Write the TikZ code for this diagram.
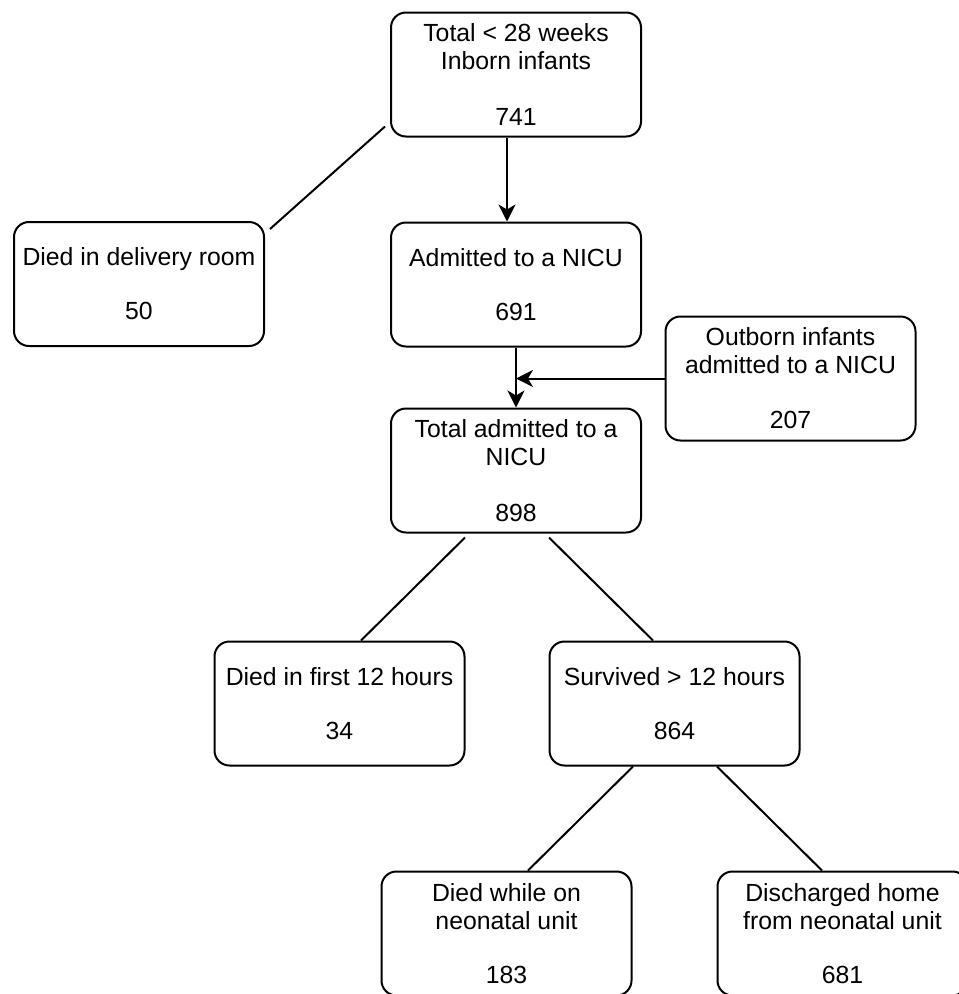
\documentclass[tikz,border=0pt]{standalone}
\usepackage{fontspec}
\setmainfont{Liberation Sans}
\usetikzlibrary{arrows.meta,calc}
\begin{document}
\begin{tikzpicture}[x=1pt,y=-1pt,
  box/.style={draw=black, line width=2pt, rounded corners=15pt, fill=white,
    minimum width=250pt, minimum height=124pt, inner sep=0pt, align=center,
    font=\fontsize{24.8}{28}\selectfont},
  conn/.style={draw=black, line width=2pt},
  arr/.style={conn, -{Stealth[length=17pt,width=17pt,inset=5pt]}}]
\fill[white] (0,0) rectangle (959,994);
\useasboundingbox (0,0) rectangle (959,994);
\node[box] (top) at (516,74.5) {Total < 28 weeks\\Inborn infants\\[28pt]741};
\node[box] (died) at (139,284) {Died in delivery room\\[26pt]50};
\node[box] (adm) at (516,284.5) {Admitted to a NICU\\[26pt]691};
\node[box] (outb) at (790.5,378.5) {Outborn infants\\admitted to a NICU\\[27pt]207};
\node[box] (tot) at (516,470.5) {Total admitted to a\\NICU\\[28pt]898};
\node[box] (d12) at (339.5,703.5) {Died in first 12 hours\\[26pt]34};
\node[box] (surv) at (674.5,703.5) {Survived > 12 hours\\[26pt]864};
\node[box] (dwhile) at (506.5,933.5) {Died while on\\neonatal unit\\[26pt]183};
\node[box] (disch) at (842.5,933.5) {Discharged home\\from neonatal unit\\[26pt]681};
\draw[conn] ([shift={(-5,-11)}]top.south west) -- ([shift={(5,8)}]died.north east);
\draw[arr] ([xshift=-9pt]top.south) -- ([xshift=-9pt]adm.north);
\draw[arr] (adm.south) -- (tot.north);
\draw[arr] (outb.west) -- (outb.west -| adm.south);
\draw[conn] ([shift={(-51,4)}]tot.south) -- ([xshift=21.5pt]d12.north);
\draw[conn] ([shift={(33,4)}]tot.south) -- ([xshift=-21.5pt]surv.north);
\draw[conn] ([xshift=-41.5pt]surv.south) -- ([xshift=21.5pt]dwhile.north);
\draw[conn] ([xshift=42.5pt]surv.south) -- ([xshift=-20.5pt]disch.north);
\end{tikzpicture}
\end{document}
